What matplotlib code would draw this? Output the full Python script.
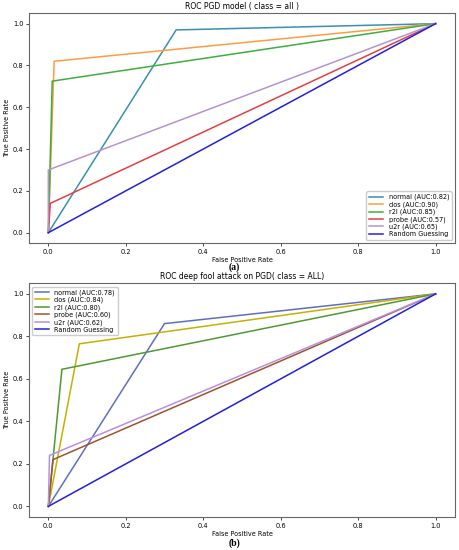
import matplotlib
matplotlib.use("Agg")
import matplotlib.pyplot as plt

# === Data: ROC curves (FPR, TPR) ===
classes = ["normal", "dos", "r2l", "probe", "u2r"]

# panel (a) PGD model
fpr_a = [[0, 0.33, 1], [0, 0.015, 1], [0, 0.01, 1], [0, 0.005, 1], [0, 0.0, 1]]
tpr_a = [[0, 0.97, 1], [0, 0.82, 1], [0, 0.725, 1], [0, 0.14, 1], [0, 0.30, 1]]
auc_a = [0.82, 0.90, 0.85, 0.57, 0.65]

# panel (b) deep fool attack on PGD
fpr_b = [[0, 0.30, 1], [0, 0.08, 1], [0, 0.035, 1], [0, 0.012, 1], [0, 0.003, 1]]
tpr_b = [[0, 0.86, 1], [0, 0.765, 1], [0, 0.645, 1], [0, 0.22, 1], [0, 0.24, 1]]
auc_b = [0.78, 0.84, 0.80, 0.60, 0.62]

colors_a = ["#3a8fb0", "#ff9b45", "#3fae3f", "#e34040", "#b593d3"]
colors_b = ["#5f6fc0", "#c8b000", "#4f9a30", "#a0522d", "#b690e0"]

fs = 5

fig = plt.figure(figsize=(4.6, 5.5), dpi=100)
ax1 = fig.add_axes([0.063, 0.558, 0.926, 0.418])
ax2 = fig.add_axes([0.063, 0.060, 0.926, 0.425])


def draw(ax, fprs, tprs, aucs, colors, title, loc):
    for name, f, t, a, c in zip(classes, fprs, tprs, aucs, colors):
        ax.plot(f, t, color=c, lw=1.1, label=f"{name} (AUC:{a:.2f})")
    ax.plot([0, 1], [0, 1], color="#2020e0", lw=1.1, label="Random Guessing")
    ax.set_title(title, fontsize=fs + 0.5, pad=3)
    ax.set_xlabel("False Positive Rate", fontsize=fs - 0.3, labelpad=2)
    ax.set_ylabel("True Positive Rate", fontsize=fs - 0.3, labelpad=2)
    ax.set_xticks([0, 0.2, 0.4, 0.6, 0.8, 1.0])
    ax.set_yticks([0, 0.2, 0.4, 0.6, 0.8, 1.0])
    ax.tick_params(labelsize=fs - 0.2, length=2, width=0.5, pad=2)
    for s in ax.spines.values():
        s.set_linewidth(0.8)
        s.set_color("#666666")
    ax.legend(loc=loc, fontsize=fs - 0.3, handlelength=2.2, labelspacing=0.15,
              borderpad=0.4, framealpha=1, edgecolor="#cccccc")


draw(ax1, fpr_a, tpr_a, auc_a, colors_a, "ROC PGD model ( class = all )", "lower right")
draw(ax2, fpr_b, tpr_b, auc_b, colors_b, "ROC deep fool attack on PGD( class = ALL)", "upper left")

fig.text(0.51, 0.514, "(a)", ha="center", va="center", fontsize=7,
         family="Liberation Serif", weight="bold")
fig.text(0.51, 0.013, "(b)", ha="center", va="center", fontsize=7,
         family="Liberation Serif", weight="bold")

plt.savefig("out.png", dpi=100)
